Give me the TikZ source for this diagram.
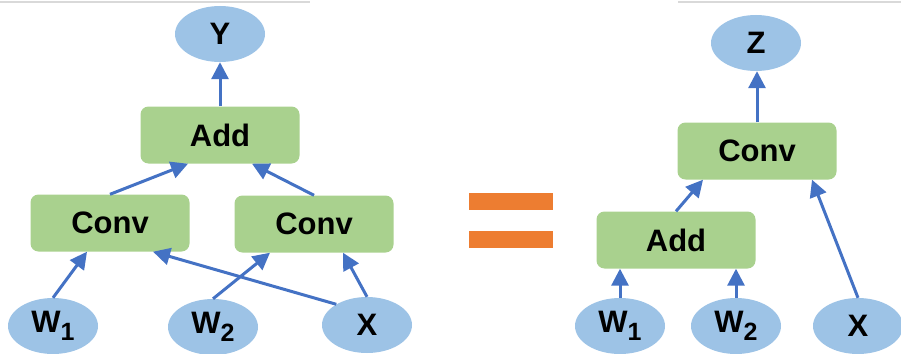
\documentclass[tikz,border=0pt]{standalone}
\usepackage{fontspec}
\setmainfont{Liberation Sans}
\usetikzlibrary{arrows.meta,calc,shapes.geometric}
\definecolor{nodeblue}{HTML}{9DC3E6}
\definecolor{boxgreen}{HTML}{A9D18E}
\definecolor{arrowblue}{HTML}{4472C4}
\definecolor{eqorange}{HTML}{ED7D31}
\definecolor{topgray}{HTML}{D9D9D9}
\newcommand{\Wsub}[1]{W\raisebox{-8pt}{\fontsize{25}{25}\selectfont #1}}
\begin{document}
\begin{tikzpicture}[x=1pt,y=-1pt,
  lbl/.style={font=\fontsize{31}{31}\selectfont\bfseries, text=black},
  val/.style={lbl, ellipse, fill=nodeblue, minimum width=90pt, minimum height=56pt, inner sep=0pt},
  op/.style={lbl, rectangle, rounded corners=8pt, fill=boxgreen, minimum width=159pt, minimum height=57pt, inner sep=0pt},
  flow/.style={draw=arrowblue, line width=3pt, -{Triangle[length=17pt,width=17pt]}},
  eqbar/.style={fill=eqorange}
]
\useasboundingbox (0,0) rectangle (901,353);
% faint top lines
\draw[topgray, line width=1.5pt] (0,2) -- (310,2);
\draw[topgray, line width=1.5pt] (678,2) -- (901,2);

% ---- left graph ----
\node[val] (y) at (220,34) {Y};
\node[op] (add) at (220,135) {Add};
\node[op] (cl) at (110,223) {Conv};
\node[op] (cr) at (314,224) {Conv};
\node[val] (w1) at (53,326) {\Wsub{1}};
\node[val] (w2) at (213,327) {\Wsub{2}};
\node[val] (x) at (367,325) {X};

\draw[flow] (add.north) -- (y.south);
\draw[flow] (cl.north) -- ([xshift=-32pt]add.south);
\draw[flow] (cr.north) -- ([xshift=32pt]add.south);
\draw[flow] (w1.north) -- ([xshift=-23pt]cl.south);
\draw[flow] (x.146) -- ([xshift=43pt]cl.south);
\draw[flow] (w2.north) -- ([xshift=-44pt]cr.south);
\draw[flow] (x.north) -- ([xshift=29pt]cr.south);

% ---- equals sign ----
\fill[eqbar] (469,193) rectangle (553,210);
\fill[eqbar] (469,231) rectangle (553,248);

% ---- right graph ----
\node[val] (z) at (756,43) {Z};
\node[op] (rc) at (757,151) {Conv};
\node[op] (ra) at (676,240) {Add};
\node[val] (rw1) at (620,326) {\Wsub{1}};
\node[val] (rw2) at (736,326) {\Wsub{2}};
\node[val] (rx) at (858,326) {X};

\draw[flow] (rc.north) -- (rc.north |- z.south);
\draw[flow] (ra.north) -- ([xshift=-54pt]rc.south);
\draw[flow] (rw1.north) -- ([xshift=-56pt]ra.south);
\draw[flow] (rw2.north) -- ([xshift=60pt]ra.south);
\draw[flow] (rx.north) -- ([xshift=55pt]rc.south);
\end{tikzpicture}
\end{document}
